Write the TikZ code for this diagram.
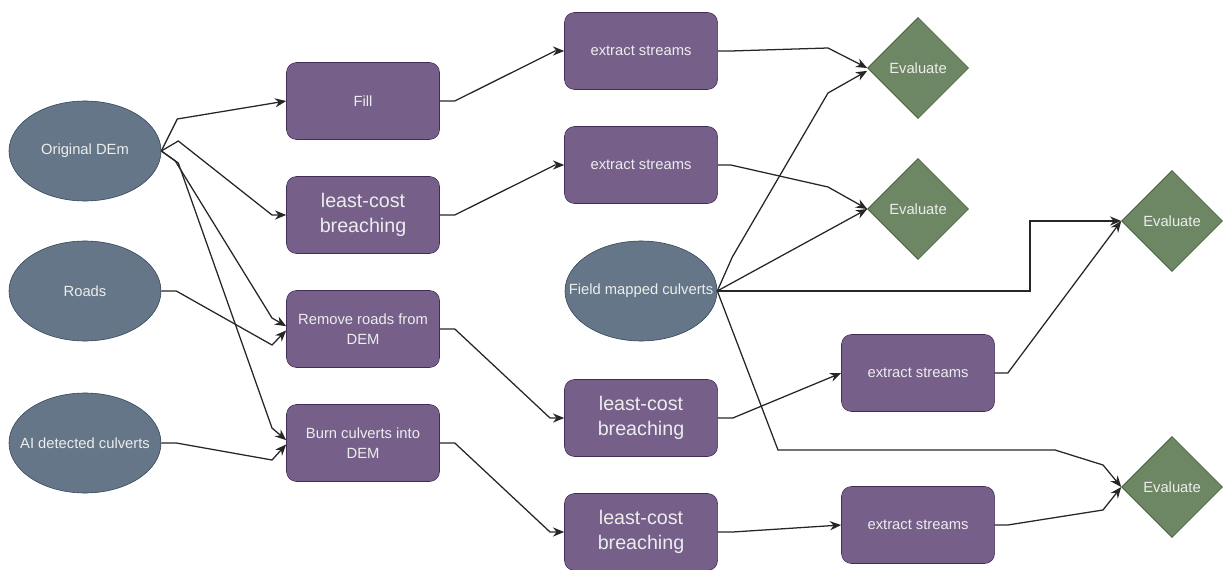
\documentclass[tikz,border=0pt]{standalone}
\usepackage{fontspec}
\setmainfont{Liberation Sans}
\usepackage{xcolor}
\usetikzlibrary{shapes.geometric,arrows.meta,positioning,calc}

\definecolor{datafill}{HTML}{647687}
\definecolor{dataline}{HTML}{314354}
\definecolor{procfill}{HTML}{76608A}
\definecolor{procline}{HTML}{432D57}
\definecolor{evalfill}{HTML}{6D8764}
\definecolor{evalline}{HTML}{3A5431}

\begin{document}
\begin{tikzpicture}[
    x=0.025cm, y=-0.025cm,
    data/.style={ellipse, draw=dataline, fill=datafill, minimum width=3.8cm, minimum height=2.5cm, inner sep=0pt, align=center, text=white!93!black, font=\fontsize{10.5}{12}\selectfont},
    proc/.style={rectangle, draw=procline, fill=procfill, rounded corners=0.25cm, minimum width=3.825cm, minimum height=1.925cm, inner sep=2pt, align=center, text=white!93!black, font=\fontsize{10.5}{14}\selectfont},
    bigproc/.style={proc, font=\fontsize{14}{18}\selectfont},
    evalbox/.style={diamond, draw=evalline, fill=evalfill, minimum width=2.525cm, minimum height=2.525cm, inner sep=0pt, text=white!93!black, font=\fontsize{10.5}{12}\selectfont},
    arrow/.style={-{Stealth[length=8pt,width=6.5pt]}, line width=0.9pt, draw=black!85}
]
\useasboundingbox (0,0) rectangle (1227,570);

% Inputs
\node[data] (orig) at (85,151) {Original DEm};
\node[data] (roads) at (85,291) {Roads};
\node[data] (ai) at (85,443) {\makebox[0pt]{AI detected culverts}};

% Preprocessing
\node[proc] (fill) at (363,101) {Fill};
\node[bigproc] (lcb1) at (363,215) {least-cost\\breaching};
\node[proc] (remove) at (363,329) {Remove roads from\\DEM};
\node[proc] (burn) at (363,443) {Burn culverts into\\DEM};

% Streams
\node[proc] (es1) at (641,51) {extract streams};
\node[proc] (es2) at (641,165) {extract streams};
\node[data] (field) at (641,291) {\makebox[0pt]{Field mapped culverts}};
\node[bigproc] (lcb2) at (641,418) {least-cost\\breaching};
\node[bigproc] (lcb3) at (641,532) {least-cost\\breaching};
\node[proc] (es3) at (918,373) {extract streams};
\node[proc] (es4) at (918,525) {extract streams};

% Evaluation
\node[evalbox] (eval1) at (918,68) {Evaluate};
\node[evalbox] (eval2) at (918,209) {Evaluate};
\node[evalbox] (eval3) at (1172,221) {Evaluate};
\node[evalbox] (eval4) at (1172,487) {Evaluate};

% Arrows
\draw[arrow] (orig.east) -- ++(16,-32) -- (fill.west);
\draw[arrow] (orig.east) -- ++(17,-10) -- (272,215) -- (lcb1.west);
\draw[arrow] (orig.east) -- ++(14,10) -- (272,318) -- ([yshift=2pt]remove.west);
\draw[arrow] (orig.east) -- ++(17,12) -- (272,428) -- ([yshift=2pt]burn.west);
\draw[arrow] (roads.east) -- ++(15,0) -- (272,345) -- ([yshift=-1pt]remove.west);
\draw[arrow] (ai.east) -- ++(15,0) -- (272,460) -- ([yshift=-1pt]burn.west);

\draw[arrow] (fill.east) -- ++(15,0) -- (555,51) -- (es1.west);
\draw[arrow] (lcb1.east) -- ++(15,0) -- (555,165) -- (es2.west);
\draw[arrow] (remove.east) -- ++(15,0) -- (550,418) -- (lcb2.west);
\draw[arrow] (burn.east) -- ++(15,0) -- (550,532) -- (lcb3.west);

\draw[arrow] (es1.east) -- ++(13,0) -- (828,48) -- (eval1.west);
\draw[arrow] (es2.east) -- ++(13,0) -- (828,187) -- (eval2.west);
\draw[arrow] (field.east) -- ++(15,-34) -- (828,93) -- ([yshift=-2pt]eval1.west);
\draw[arrow] (field.east) -- (eval2.west);
\draw[arrow] (field.east) -- (1030,291) -- (1030,221) -- (eval3.west);
\draw[arrow] (field.east) -- (778,450) -- (1055,450) -- (1103,465) -- (eval4.west);

\draw[arrow] (lcb2.east) -- ++(15,0) -- (es3.west);
\draw[arrow] (lcb3.east) -- ++(15,0) -- (es4.west);
\draw[arrow] (es3.east) -- ++(13,0) -- (eval3.west);
\draw[arrow] (es4.east) -- ++(13,0) -- (1103,510) -- (eval4.west);

\end{tikzpicture}
\end{document}
